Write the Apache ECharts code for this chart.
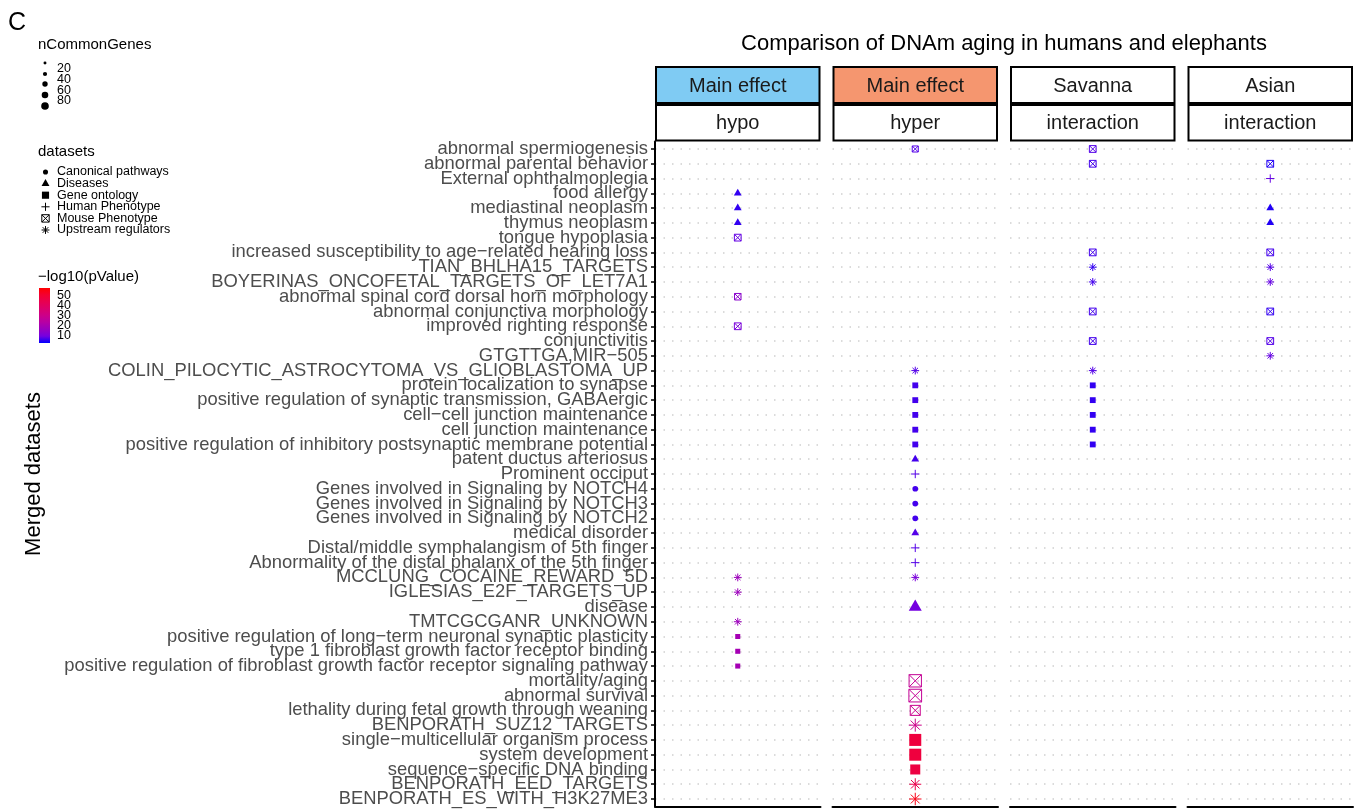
<!DOCTYPE html>
<html>
<head>
<meta charset="utf-8">
<script src="https://cdn.jsdelivr.net/npm/echarts@6/dist/echarts.min.js"></script>
<style>
  html, body { margin: 0; padding: 0; background: #fff; }
  #chart { width: 1358px; height: 809px; }
</style>
</head>
<body>
<div id="chart"></div>
<script>
// ---- terms (top to bottom) and the dataset each term comes from ----
const rowLabels = [
  'abnormal spermiogenesis',
  'abnormal parental behavior',
  'External ophthalmoplegia',
  'food allergy',
  'mediastinal neoplasm',
  'thymus neoplasm',
  'tongue hypoplasia',
  'increased susceptibility to age\u2212related hearing loss',
  'TIAN_BHLHA15_TARGETS',
  'BOYERINAS_ONCOFETAL_TARGETS_OF_LET7A1',
  'abnormal spinal cord dorsal horn morphology',
  'abnormal conjunctiva morphology',
  'improved righting response',
  'conjunctivitis',
  'GTGTTGA,MIR\u2212505',
  'COLIN_PILOCYTIC_ASTROCYTOMA_VS_GLIOBLASTOMA_UP',
  'protein localization to synapse',
  'positive regulation of synaptic transmission, GABAergic',
  'cell\u2212cell junction maintenance',
  'cell junction maintenance',
  'positive regulation of inhibitory postsynaptic membrane potential',
  'patent ductus arteriosus',
  'Prominent occiput',
  'Genes involved in Signaling by NOTCH4',
  'Genes involved in Signaling by NOTCH3',
  'Genes involved in Signaling by NOTCH2',
  'medical disorder',
  'Distal/middle symphalangism of 5th finger',
  'Abnormality of the distal phalanx of the 5th finger',
  'MCCLUNG_COCAINE_REWARD_5D',
  'IGLESIAS_E2F_TARGETS_UP',
  'disease',
  'TMTCGCGANR_UNKNOWN',
  'positive regulation of long\u2212term neuronal synaptic plasticity',
  'type 1 fibroblast growth factor receptor binding',
  'positive regulation of fibroblast growth factor receptor signaling pathway',
  'mortality/aging',
  'abnormal survival',
  'lethality during fetal growth through weaning',
  'BENPORATH_SUZ12_TARGETS',
  'single\u2212multicellular organism process',
  'system development',
  'sequence\u2212specific DNA binding',
  'BENPORATH_EED_TARGETS',
  'BENPORATH_ES_WITH_H3K27ME3'
];
const rowDatasets = [
  'MP', 'MP', 'HP', 'DI', 'DI', 'DI', 'MP', 'MP', 'UR', 'UR',
  'MP', 'MP', 'MP', 'MP', 'UR', 'UR', 'GO', 'GO', 'GO', 'GO',
  'GO', 'DI', 'HP', 'CP', 'CP', 'CP', 'DI', 'HP', 'HP', 'UR',
  'UR', 'DI', 'UR', 'GO', 'GO', 'GO', 'MP', 'MP', 'MP', 'UR',
  'GO', 'GO', 'GO', 'UR', 'UR'
];
const datasetKeys = ['CP', 'DI', 'GO', 'HP', 'MP', 'UR'];
const datasetNames = ['Canonical pathways', 'Diseases', 'Gene ontology', 'Human Phenotype', 'Mouse Phenotype', 'Upstream regulators'];

// ---- facets ----
const panelKeys = ['hypo', 'hyper', 'Savanna interaction', 'Asian interaction'];
const stripTop = ['Main effect', 'Main effect', 'Savanna', 'Asian'];
const stripBottom = ['hypo', 'hyper', 'interaction', 'interaction'];
const stripFill = ['#7fcbf3', '#f5966f', '#ffffff', '#ffffff'];

// ---- Main effect: hypo ----
const hypoTerms = [
  'food allergy', 'mediastinal neoplasm', 'thymus neoplasm', 'tongue hypoplasia',
  'abnormal spinal cord dorsal horn morphology', 'improved righting response',
  'MCCLUNG_COCAINE_REWARD_5D', 'IGLESIAS_E2F_TARGETS_UP', 'TMTCGCGANR_UNKNOWN',
  'positive regulation of long\u2212term neuronal synaptic plasticity',
  'type 1 fibroblast growth factor receptor binding',
  'positive regulation of fibroblast growth factor receptor signaling pathway'
];
const hypoGenes = [35, 35, 35, 30, 28, 30, 35, 35, 35, 18, 18, 18];
const hypoLogP  = [5, 5, 5, 8, 13, 10, 17, 17, 17, 19, 19, 19];

// ---- Main effect: hyper ----
const hyperTerms = [
  'abnormal spermiogenesis', 'COLIN_PILOCYTIC_ASTROCYTOMA_VS_GLIOBLASTOMA_UP',
  'protein localization to synapse', 'positive regulation of synaptic transmission, GABAergic',
  'cell\u2212cell junction maintenance', 'cell junction maintenance',
  'positive regulation of inhibitory postsynaptic membrane potential',
  'patent ductus arteriosus', 'Prominent occiput',
  'Genes involved in Signaling by NOTCH4', 'Genes involved in Signaling by NOTCH3',
  'Genes involved in Signaling by NOTCH2', 'medical disorder',
  'Distal/middle symphalangism of 5th finger', 'Abnormality of the distal phalanx of the 5th finger',
  'MCCLUNG_COCAINE_REWARD_5D', 'disease', 'mortality/aging', 'abnormal survival',
  'lethality during fetal growth through weaning', 'BENPORATH_SUZ12_TARGETS',
  'single\u2212multicellular organism process', 'system development',
  'sequence\u2212specific DNA binding', 'BENPORATH_EED_TARGETS', 'BENPORATH_ES_WITH_H3K27ME3'
];
const hyperGenes = [24, 35, 24, 24, 24, 24, 24, 35, 38, 45, 45, 45, 35, 38, 38, 35, 97, 100, 106, 66, 97, 102, 102, 71, 83, 90];
const hyperLogP  = [7, 7, 6, 6, 6, 6, 6, 6, 7, 6, 6, 6, 7, 7, 7, 10, 9, 27, 27, 29, 30, 48, 48, 47, 45, 55];

// ---- Savanna interaction ----
const savannaTerms = [
  'abnormal spermiogenesis', 'abnormal parental behavior',
  'increased susceptibility to age\u2212related hearing loss', 'TIAN_BHLHA15_TARGETS',
  'BOYERINAS_ONCOFETAL_TARGETS_OF_LET7A1', 'abnormal conjunctiva morphology', 'conjunctivitis',
  'COLIN_PILOCYTIC_ASTROCYTOMA_VS_GLIOBLASTOMA_UP', 'protein localization to synapse',
  'positive regulation of synaptic transmission, GABAergic', 'cell\u2212cell junction maintenance',
  'cell junction maintenance', 'positive regulation of inhibitory postsynaptic membrane potential'
];
const savannaGenes = [30, 30, 30, 35, 35, 30, 30, 35, 24, 24, 24, 24, 24];
const savannaLogP  = [7, 6, 6, 5, 6, 6, 6, 7, 5, 5, 5, 5, 5];

// ---- Asian interaction ----
const asianTerms = [
  'abnormal parental behavior', 'External ophthalmoplegia', 'mediastinal neoplasm', 'thymus neoplasm',
  'increased susceptibility to age\u2212related hearing loss', 'TIAN_BHLHA15_TARGETS',
  'BOYERINAS_ONCOFETAL_TARGETS_OF_LET7A1', 'abnormal conjunctiva morphology', 'conjunctivitis',
  'GTGTTGA,MIR\u2212505'
];
const asianGenes = [30, 38, 35, 35, 30, 35, 35, 30, 30, 35];
const asianLogP  = [4, 8, 4, 4, 6, 7, 8, 5, 7, 8];

// ---- legend scales ----
const sizeLegendValues = [12, 24, 40, 60, 80];
const sizeLegendLabels = ['20', '40', '60', '80'];
const colorTicks = [10, 20, 30, 40, 50];
const logPMin = 2, logPMax = 58;
// blue -> red ramp (interpolated in Lab)
const ramp = ['#0000ff', '#7500e0', '#9800bf', '#b600a5', '#cc0089', '#db006c', '#e80050', '#f40030', '#ff0000'];

const panels = [
  { terms: hypoTerms, genes: hypoGenes, logP: hypoLogP },
  { terms: hyperTerms, genes: hyperGenes, logP: hyperLogP },
  { terms: savannaTerms, genes: savannaGenes, logP: savannaLogP },
  { terms: asianTerms, genes: asianGenes, logP: asianLogP }
];

const FONT = 'Liberation Sans, Arial, Helvetica, sans-serif';
const panelLeft = [655, 832.5, 1010, 1187.5];
const panelWidth = 165.5;
const plotTop = 141.6;
const plotHeight = 664.8;

// one marker glyph per dataset type; size follows nCommonGenes (area scale)
function markGraphic(kind, cx, cy, n, color) {
  const d = 0.85 * Math.sqrt(n);
  const line = (x1, y1, x2, y2) => ({
    type: 'line', shape: { x1, y1, x2, y2 },
    style: { stroke: color, lineWidth: 1, fill: null }
  });
  const children = [];
  if (kind === 'CP') {
    children.push({ type: 'circle', shape: { cx, cy, r: d / 2 }, style: { fill: color } });
  } else if (kind === 'DI') {
    const w = d * 1.55, r = w / Math.sqrt(3);
    children.push({
      type: 'polygon',
      shape: { points: [[cx, cy - r], [cx + w / 2, cy + r / 2], [cx - w / 2, cy + r / 2]] },
      style: { fill: color }
    });
  } else if (kind === 'GO') {
    const s = d * 1.4;
    children.push({ type: 'rect', shape: { x: cx - s / 2, y: cy - s / 2, width: s, height: s }, style: { fill: color } });
  } else if (kind === 'HP') {
    const h = d * 1.6 / 2;
    children.push(line(cx - h, cy, cx + h, cy), line(cx, cy - h, cx, cy + h));
  } else if (kind === 'MP') {
    const h = d * 1.45 / 2;
    children.push({
      type: 'rect', shape: { x: cx - h, y: cy - h, width: 2 * h, height: 2 * h },
      style: { fill: null, stroke: color, lineWidth: 1 }
    });
    children.push(line(cx - h, cy - h, cx + h, cy + h), line(cx - h, cy + h, cx + h, cy - h));
  } else {
    const h = d * 1.55 / 2, q = h * Math.SQRT1_2;
    children.push(line(cx - h, cy, cx + h, cy), line(cx, cy - h, cx, cy + h),
                  line(cx - q, cy - q, cx + q, cy + q), line(cx - q, cy + q, cx + q, cy - q));
  }
  return { type: 'group', children };
}

const grids = [], xAxes = [], yAxes = [], series = [];
panels.forEach((p, i) => {
  grids.push({ left: panelLeft[i], top: plotTop, width: panelWidth, height: plotHeight });
  xAxes.push({
    gridIndex: i, type: 'category', data: [panelKeys[i]],
    axisLine: { show: true, lineStyle: { color: '#000', width: 2 } },
    axisTick: { show: false }, axisLabel: { show: false }, splitLine: { show: false }
  });
  const first = i === 0;
  yAxes.push({
    gridIndex: i, type: 'category', data: rowLabels, inverse: true,
    name: first ? 'Merged datasets' : '',
    nameLocation: 'middle', nameGap: 610, nameRotate: 90,
    nameTextStyle: { fontSize: 22, color: '#000', fontFamily: FONT },
    axisLine: { show: first, lineStyle: { color: '#000', width: 2 } },
    axisTick: { show: first, alignWithLabel: true, interval: 0, length: 4, lineStyle: { color: '#000', width: 1.5 } },
    axisLabel: { show: first, interval: 0, fontSize: 18.4, color: '#4d4d4d', fontFamily: FONT, margin: 7 },
    splitLine: { show: true, interval: 0, alignWithLabel: true, lineStyle: { color: '#cfcfcf', width: 1.5, type: [1.5, 7] } }
  });
  series.push({
    type: 'custom', xAxisIndex: i, yAxisIndex: i, clip: false,
    encode: { x: 0, y: 1 },
    data: p.terms.map((t, k) => [panelKeys[i], t, p.genes[k], p.logP[k]]),
    renderItem: (params, api) => {
      const pt = api.coord([api.value(0), api.value(1)]);
      const term = p.terms[params.dataIndex];
      const kind = rowDatasets[rowLabels.indexOf(term)];
      return markGraphic(kind, pt[0], pt[1], api.value(2), api.visual('color'));
    }
  });
});

// ---- strips, title, legends ----
const graphics = [];
graphics.push({
  type: 'text', x: (panelLeft[0] + panelLeft[3] + panelWidth) / 2, y: 44,
  style: { text: 'Comparison of DNAm aging in humans and elephants', fontSize: 22, fontFamily: FONT,
           fill: '#000', align: 'center', verticalAlign: 'middle' }
});
panelLeft.forEach((x, i) => {
  [[67, 36, stripTop[i], stripFill[i]], [105, 35.5, stripBottom[i], '#ffffff']].forEach(([y, h, label, fill]) => {
    graphics.push({
      type: 'rect', shape: { x: x + 1, y, width: panelWidth - 2, height: h },
      style: { fill, stroke: '#000', lineWidth: 2 }
    });
    graphics.push({
      type: 'text', x: x + panelWidth / 2, y: y + h / 2 + 1,
      style: { text: label, fontSize: 20, fontFamily: FONT, fill: '#1a1a1a', align: 'center', verticalAlign: 'middle' }
    });
  });
});

graphics.push({ type: 'text', x: 8, y: 23, style: { text: 'C', fontSize: 25, fontFamily: FONT, fill: '#000', verticalAlign: 'middle' } });

// size legend
graphics.push({ type: 'text', x: 38, y: 45, style: { text: 'nCommonGenes', fontSize: 15, fontFamily: FONT, fill: '#000', verticalAlign: 'middle' } });
const sizeDotY = [63, 74, 84, 95, 106];
sizeLegendValues.forEach((v, k) => graphics.push(markGraphic('CP', 45, sizeDotY[k], v, '#000')));
const sizeLabelY = [69, 80, 91, 101];
sizeLegendLabels.forEach((t, k) => graphics.push({
  type: 'text', x: 57, y: sizeLabelY[k], style: { text: t, fontSize: 12.5, fontFamily: FONT, fill: '#000', verticalAlign: 'middle' }
}));

// shape legend
graphics.push({ type: 'text', x: 38, y: 152, style: { text: 'datasets', fontSize: 15, fontFamily: FONT, fill: '#000', verticalAlign: 'middle' } });
datasetKeys.forEach((key, k) => {
  const y = 172 + k * 11.6;
  graphics.push(markGraphic(key, 45.5, y, 36, '#000'));
  graphics.push({
    type: 'text', x: 57, y, style: { text: datasetNames[k], fontSize: 12.5, fontFamily: FONT, fill: '#000', verticalAlign: 'middle' }
  });
});

// colour bar
graphics.push({ type: 'text', x: 38, y: 277, style: { text: '\u2212log10(pValue)', fontSize: 15, fontFamily: FONT, fill: '#000', verticalAlign: 'middle' } });
const barTop = 288, barBottom = 343;
graphics.push({
  type: 'rect', shape: { x: 39, y: barTop, width: 11, height: barBottom - barTop },
  style: {
    fill: { type: 'linear', x: 0, y: 1, x2: 0, y2: 0,
            colorStops: ramp.map((c, k) => ({ offset: k / (ramp.length - 1), color: c })) }
  }
});
colorTicks.forEach(v => {
  const y = barBottom - (v - logPMin) / (logPMax - logPMin) * (barBottom - barTop);
  graphics.push({ type: 'text', x: 57, y, style: { text: String(v), fontSize: 12.5, fontFamily: FONT, fill: '#000', verticalAlign: 'middle' } });
});

const chart = echarts.init(document.getElementById('chart'), null, { renderer: 'canvas' });
chart.setOption({
  backgroundColor: '#ffffff',
  animation: false,
  grid: grids,
  xAxis: xAxes,
  yAxis: yAxes,
  visualMap: {
    type: 'continuous', show: false, min: logPMin, max: logPMax, dimension: 3,
    seriesIndex: [0, 1, 2, 3], inRange: { color: ramp }
  },
  series,
  graphic: graphics
});
</script>
</body>
</html>
